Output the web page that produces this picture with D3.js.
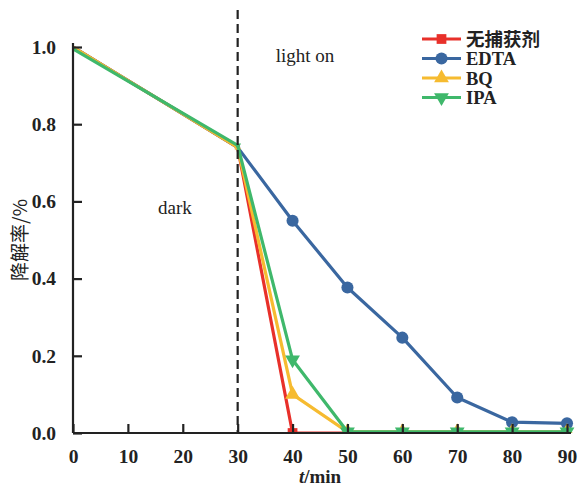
<!DOCTYPE html>
<html><head><meta charset="utf-8">
<script src="https://cdn.jsdelivr.net/npm/d3@7"></script>
<style>body{margin:0;background:#fff}svg{display:block}</style>
</head><body><div id="c"></div>
<script>
const times = [0, 30, 40, 50, 60, 70, 80, 90];
const seriesNames = ["无捕获剂", "EDTA", "BQ", "IPA"];
const noScavenger = [1.0, 0.74, 0.0, 0.0, 0.0, 0.0, 0.0, 0.0];
const edta = [1.0, 0.74, 0.55, 0.377, 0.247, 0.092, 0.028, 0.025];
const bq = [1.0, 0.74, 0.10, 0.003, 0.003, 0.003, 0.003, 0.003];
const ipa = [0.995, 0.745, 0.19, 0.003, 0.003, 0.003, 0.003, 0.003];
const xTicks = [0, 10, 20, 30, 40, 50, 60, 70, 80, 90];
const yTicks = [0.0, 0.2, 0.4, 0.6, 0.8, 1.0];
const colors = ["#e8302a", "#3a67a0", "#f6bb30", "#3fb86b"];
const symbols = [d3.symbolSquare, d3.symbolCircle, d3.symbolTriangle, d3.symbolTriangle];

const W = 579, H = 491;
const m = {l: 73};
const svg = d3.select("#c").append("svg").attr("width", W).attr("height", H);
const x = d3.scaleLinear().domain([0, 90]).range([m.l, 567]);
const y = d3.scaleLinear().domain([0, 1]).range([433, 47]);
const font = "Liberation Serif, Times New Roman, serif";

svg.append("defs").append("clipPath").attr("id", "clip")
  .append("rect").attr("x", m.l - 10).attr("y", 0).attr("width", W).attr("height", 433);

const data = [noScavenger, edta, bq, ipa];
const g = svg.append("g").attr("clip-path", "url(#clip)");
data.forEach((vals, i) => {
  const pts = times.map((t, j) => [t, vals[j]]);
  g.append("path").datum(pts)
    .attr("d", d3.line().x(d => x(d[0])).y(d => y(d[1])))
    .attr("fill", "none").attr("stroke", colors[i]).attr("stroke-width", 3.2)
    .attr("stroke-linejoin", "round");
  g.selectAll(null).data(pts.slice(1)).enter().append("path")
    .attr("d", (d, j) => d3.symbol().type(symbols[i]).size(j === 0 ? 20 : (i === 1 ? 115 : 95))())
    .attr("transform", d => `translate(${x(d[0])},${y(d[1])})${i === 3 ? " rotate(180)" : ""}`)
    .attr("fill", colors[i]);
});

// dashed line (on top)
svg.append("line").attr("x1", x(30)).attr("x2", x(30)).attr("y1", 10).attr("y2", 433)
  .attr("stroke", "#222").attr("stroke-width", 2.2).attr("stroke-dasharray", "9,5");

// axes
const xa = svg.append("g").attr("transform", "translate(0,433)")
  .call(d3.axisBottom(x).tickValues(xTicks).tickSize(-9).tickPadding(16).tickFormat(d3.format("d")));
const ya = svg.append("g").attr("transform", `translate(${m.l},0)`)
  .call(d3.axisLeft(y).tickValues(yTicks).tickSize(-9).tickPadding(17).tickFormat(d3.format(".1f")));
[xa, ya].forEach(a => {
  a.select(".domain").attr("stroke", "#222").attr("stroke-width", 2.2);
  a.selectAll(".tick line").attr("stroke", "#222").attr("stroke-width", 2.2);
  a.selectAll("text").attr("font-family", font).attr("font-size", 19.5).attr("font-weight", "bold").attr("fill", "#222");
});
ya.select(".domain").attr("d", `M0,433V${y(1) - 4}`);
xa.select(".domain").attr("d", `M${m.l},0H${x(90) + 4}`);

// axis titles
const xt = svg.append("text").attr("x", x(45)).attr("y", 483).attr("text-anchor", "middle")
  .attr("font-family", font).attr("font-size", 19).attr("font-weight", "bold").attr("fill", "#222");
xt.append("tspan").attr("font-style", "italic").text("t");
xt.append("tspan").text("/min");
svg.append("text").attr("transform", `translate(27,${y(0.5)}) rotate(-90)`).attr("text-anchor", "middle")
  .attr("font-family", "Noto Sans CJK SC, sans-serif").attr("font-size", 19).attr("fill", "#222").text("降解率/%");

// annotations
svg.append("text").attr("x", 305).attr("y", 62).attr("text-anchor", "middle")
  .attr("font-family", font).attr("font-size", 19).attr("fill", "#222").text("light on");
svg.append("text").attr("x", 175).attr("y", 214).attr("text-anchor", "middle")
  .attr("font-family", font).attr("font-size", 19).attr("fill", "#222").text("dark");

// legend
const leg = svg.append("g");
seriesNames.forEach((n, i) => {
  const yy = 39 + i * 19.5;
  leg.append("line").attr("x1", 422).attr("x2", 461).attr("y1", yy).attr("y2", yy)
    .attr("stroke", colors[i]).attr("stroke-width", 3.2);
  leg.append("path").attr("d", d3.symbol().type(symbols[i]).size(i === 1 ? 115 : 95))
    .attr("transform", `translate(441.5,${yy})${i === 3 ? " rotate(180)" : ""}`).attr("fill", colors[i]);
  leg.append("text").attr("x", 466).attr("y", yy + 6.5).attr("font-family", i === 0 ? "Noto Sans CJK SC, sans-serif" : font)
    .attr("font-size", 18.5).attr("font-weight", "bold").attr("fill", "#222").text(n);
});
</script></body></html>
